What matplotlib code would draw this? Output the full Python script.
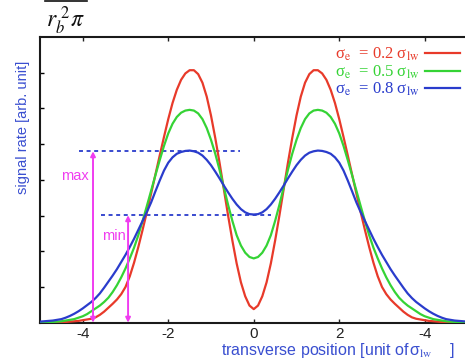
import matplotlib
matplotlib.use("Agg")
import matplotlib.pyplot as plt
from matplotlib.lines import Line2D

plt.rcParams['mathtext.fontset'] = 'stix'
plt.rcParams['font.family'] = ['Liberation Sans', 'DejaVu Sans']

# ---------------- data ----------------
x_pos = [i / 10 for i in range(-50, 51)]

sig_02 = [0.00, 0.00, 0.00, 0.01, 0.01, 0.01, 0.02, 0.03, 0.04, 0.05,
          0.07, 0.09, 0.11, 0.15, 0.22, 0.31, 0.42, 0.53, 0.65, 0.80,
          1.00, 1.30, 1.68, 2.12, 2.60, 3.10, 3.62, 4.15, 4.68, 5.20,
          5.70, 6.15, 6.52, 6.80, 6.98, 7.07, 7.07, 6.96, 6.72, 6.33,
          5.80, 5.17, 4.48, 3.74, 3.00, 2.30, 1.66, 1.13, 0.74, 0.48,
          0.38,
          0.48, 0.74, 1.13, 1.66, 2.30, 3.00, 3.74, 4.48, 5.17, 5.80,
          6.33, 6.72, 6.96, 7.07, 7.07, 6.98, 6.80, 6.52, 6.15, 5.70,
          5.20, 4.68, 4.15, 3.62, 3.10, 2.60, 2.12, 1.68, 1.30, 1.00,
          0.80, 0.65, 0.53, 0.42, 0.31, 0.22, 0.15, 0.11, 0.09, 0.07,
          0.05, 0.04, 0.03, 0.02, 0.01, 0.01, 0.01, 0.00, 0.00, 0.00]

sig_05 = [0.01, 0.01, 0.02, 0.02, 0.03, 0.04, 0.06, 0.08, 0.10, 0.14,
          0.18, 0.24, 0.32, 0.40, 0.48, 0.58, 0.70, 0.86, 1.05, 1.27,
          1.52, 1.80, 2.10, 2.45, 2.85, 3.27, 3.70, 4.13, 4.55, 4.95,
          5.30, 5.57, 5.76, 5.88, 5.94, 5.96, 5.94, 5.86, 5.70, 5.45,
          5.12, 4.73, 4.28, 3.79, 3.30, 2.85, 2.45, 2.16, 1.96, 1.84,
          1.80,
          1.84, 1.96, 2.16, 2.45, 2.85, 3.30, 3.79, 4.28, 4.73, 5.12,
          5.45, 5.70, 5.86, 5.94, 5.96, 5.94, 5.88, 5.76, 5.57, 5.30,
          4.95, 4.55, 4.13, 3.70, 3.27, 2.85, 2.45, 2.10, 1.80, 1.52,
          1.27, 1.05, 0.86, 0.70, 0.58, 0.48, 0.40, 0.32, 0.24, 0.18,
          0.14, 0.10, 0.08, 0.06, 0.04, 0.03, 0.02, 0.02, 0.01, 0.01]

sig_08 = [0.03, 0.04, 0.05, 0.06, 0.08, 0.10, 0.14, 0.19, 0.25, 0.32,
          0.40, 0.49, 0.58, 0.69, 0.82, 0.98, 1.15, 1.32, 1.50, 1.70,
          1.90, 2.12, 2.35, 2.60, 2.85, 3.10, 3.37, 3.68, 3.98, 4.26,
          4.48, 4.63, 4.73, 4.78, 4.81, 4.82, 4.80, 4.76, 4.68, 4.56,
          4.41, 4.23, 4.04, 3.84, 3.65, 3.47, 3.31, 3.18, 3.09, 3.04,
          3.03,
          3.04, 3.09, 3.18, 3.31, 3.47, 3.65, 3.84, 4.04, 4.23, 4.41,
          4.56, 4.68, 4.76, 4.80, 4.82, 4.81, 4.78, 4.73, 4.63, 4.48,
          4.26, 3.98, 3.68, 3.37, 3.10, 2.85, 2.60, 2.35, 2.12, 1.90,
          1.70, 1.50, 1.32, 1.15, 0.98, 0.82, 0.69, 0.58, 0.49, 0.40,
          0.32, 0.25, 0.19, 0.14, 0.10, 0.08, 0.06, 0.05, 0.04, 0.03]

series_labels = [r'σ$_{\rm e}$  = 0.2 σ$_{\rm lw}$',
                 r'σ$_{\rm e}$  = 0.5 σ$_{\rm lw}$',
                 r'σ$_{\rm e}$  = 0.8 σ$_{\rm lw}$']

max_level = 4.80
max_span = [-4.09, -0.31]
min_level = 3.01
min_span = [-3.57, 0.41]
max_arrow_x = -3.76
min_arrow_x = -2.94

x_ticks = [-4, -2, 0, 2, 4]
x_tick_labels = ['-4', '-2', '0', '2', '-4']
y_ticks = [1, 2, 3, 4, 5, 6, 7]

# ---------------- styling ----------------
RED = '#e83a2a'
GREEN = '#35d335'
BLUE = '#2a3ccc'
MAGENTA = '#f03cf0'
LABEL_BLUE = '#3a4fd0'

W, H = 465, 364
fig = plt.figure(figsize=(W / 100, H / 100), dpi=100)
ax = fig.add_axes([40 / W, (H - 322.7) / H, 427.5 / W, (322.7 - 37) / H])

ax.plot(x_pos, sig_02, color=RED, lw=1.6, label=series_labels[0], zorder=3)
ax.plot(x_pos, sig_05, color=GREEN, lw=1.6, label=series_labels[1], zorder=3)
ax.plot(x_pos, sig_08, color=BLUE, lw=1.6, label=series_labels[2], zorder=4)

ax.plot(max_span, [max_level, max_level], color=BLUE, lw=1.3,
        linestyle=(0, (2.2, 2.0)), zorder=2)
ax.plot(min_span, [min_level, min_level], color=BLUE, lw=1.3,
        linestyle=(0, (2.2, 2.0)), zorder=2)

for xa, lev in [(max_arrow_x, max_level), (min_arrow_x, min_level)]:
    ax.annotate('', xy=(xa, lev), xytext=(xa, 0.0),
                arrowprops=dict(arrowstyle='<|-|>', color=MAGENTA, lw=1.4,
                                mutation_scale=7, shrinkA=0, shrinkB=0),
                zorder=5)

ax.text(max_arrow_x - 0.1, 4.1, 'max', color=MAGENTA, fontsize=10.5,
        ha='right', va='center')
ax.text(min_arrow_x - 0.06, 2.44, 'min', color=MAGENTA, fontsize=10.5,
        ha='right', va='center')

ax.set_xlim(-5, 5)
ax.set_ylim(0, 8)
ax.set_xticks(x_ticks)
ax.set_xticklabels(x_tick_labels, fontsize=11)
ax.set_yticks(y_ticks)
ax.set_yticklabels([])
ax.tick_params(axis='x', direction='in', top=True, length=3, width=1,
               pad=3, colors='#222222')
ax.tick_params(axis='y', direction='in', length=3, width=1)
for sp in ax.spines.values():
    sp.set_linewidth(1.5)
    sp.set_color('#1a1a1a')

leg = ax.legend(loc='upper right', bbox_to_anchor=(460 / W, (H - 46) / H),
                bbox_transform=fig.transFigure, frameon=False,
                markerfirst=False, labelcolor='linecolor',
                prop={'family': 'Liberation Serif', 'size': 12},
                handlelength=2.1, handletextpad=0.3, labelspacing=0.0,
                borderpad=0, borderaxespad=0)

fig.text(23 / W, 1 - 127 / H, 'signal rate [arb. unit]', rotation=90,
         color=LABEL_BLUE, fontsize=10.5, ha='center', va='center')
fig.text(455 / W, 1 - 351 / H,
         r'transverse position [unit of$\,$σ$_{\rm lw}$    ]',
         color=LABEL_BLUE, fontsize=11.5, ha='right', va='center')

fig.text(46 / W, 1 - 21 / H, r'$r_b^{\ 2}\pi$', fontsize=17,
         ha='left', va='center', color='#111111')
fig.add_artist(Line2D([45 / W, 87 / W], [1 - 1.2 / H, 1 - 1.2 / H],
                      color='#111111', lw=1.2))

fig.savefig('out.png', dpi=100)
